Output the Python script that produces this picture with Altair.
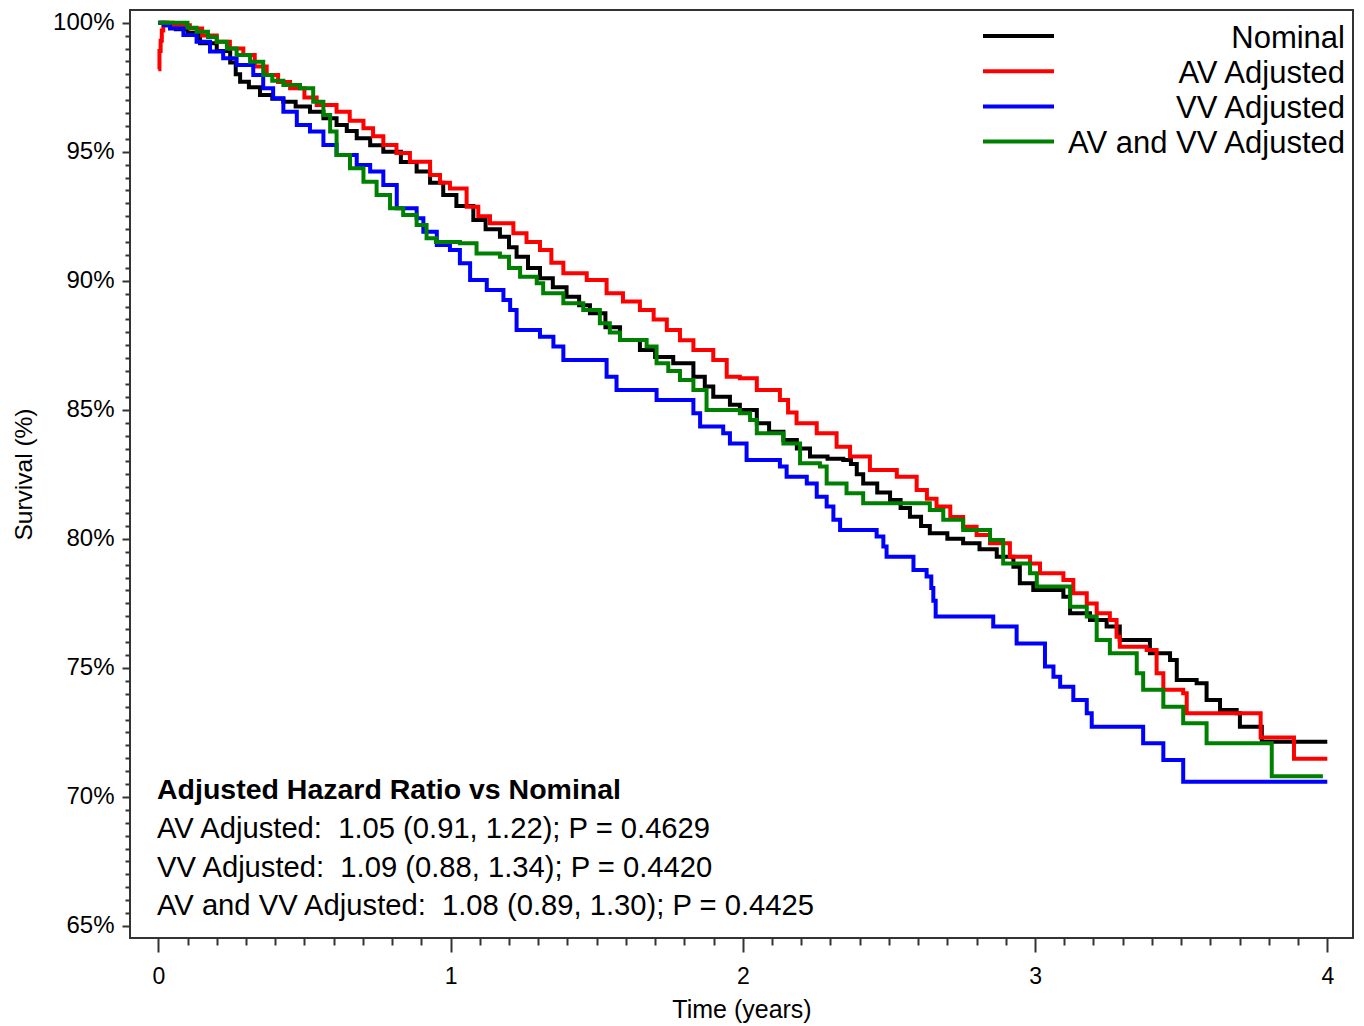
import altair as alt
import pandas as pd

SERIES = ["Nominal", "AV Adjusted", "VV Adjusted", "AV and VV Adjusted"]
COLORS = ["#000000", "#ff0000", "#0000ff", "#008000"]

NOM_T = [0, 0.03, 0.06, 0.1, 0.143, 0.2, 0.246, 0.265, 0.28, 0.31, 0.348, 0.39, 0.428, 0.47, 0.519,
         0.565, 0.61, 0.645, 0.679, 0.725, 0.77, 0.83, 0.884, 0.93, 0.975, 1.02, 1.078, 1.12, 1.169,
         1.2, 1.226, 1.265, 1.306, 1.35, 1.397, 1.44, 1.477, 1.53, 1.58, 1.648, 1.7, 1.762, 1.831,
         1.87, 1.899, 1.956, 1.99, 2.048, 2.09, 2.139, 2.185, 2.23, 2.29, 2.344, 2.37, 2.39, 2.412,
         2.46, 2.504, 2.54, 2.572, 2.61, 2.64, 2.7, 2.754, 2.81, 2.869, 2.926, 2.948, 2.994, 3.097,
         3.12, 3.188, 3.245, 3.29, 3.393, 3.462, 3.485, 3.553, 3.587, 3.633, 3.69, 3.701, 3.776, 4.0]
NOM_S = [100, 99.9, 99.75, 99.6, 99.2, 98.9, 98.46, 98.0, 97.71, 97.5, 97.2, 97.05, 96.94, 96.75, 96.55,
         96.3, 96.04, 95.8, 95.52, 95.25, 95.0, 94.6, 94.23, 93.8, 93.32, 92.9, 92.36, 92.0, 91.71,
         91.3, 90.93, 90.5, 90.1, 89.75, 89.38, 89.05, 88.74, 88.2, 87.71, 87.32, 87.05, 86.8, 86.28,
         85.9, 85.51, 85.2, 84.99, 84.48, 84.15, 83.83, 83.5, 83.19, 83.1, 83.06, 82.9, 82.5, 82.15,
         81.8, 81.51, 81.2, 80.86, 80.5, 80.22, 80.0, 79.83, 79.6, 79.31, 78.92, 78.28, 78.02, 77.76,
         77.12, 76.86, 76.6, 76.08, 75.57, 75.31, 74.53, 74.41, 73.76, 73.37, 73.24, 72.72, 72.14, 72.14]

AV_T = [0, 0.004, 0.008, 0.012, 0.017, 0.05, 0.108, 0.15, 0.2, 0.245, 0.291, 0.33, 0.371, 0.41, 0.451,
        0.5, 0.542, 0.61, 0.655, 0.702, 0.735, 0.77, 0.815, 0.861, 0.93, 0.964, 0.998, 1.055, 1.095,
        1.135, 1.215, 1.26, 1.306, 1.345, 1.386, 1.466, 1.534, 1.59, 1.648, 1.695, 1.74, 1.785, 1.831,
        1.899, 1.945, 1.99, 2.048, 2.127, 2.155, 2.184, 2.253, 2.321, 2.367, 2.435, 2.527, 2.595, 2.63,
        2.663, 2.71, 2.754, 2.8, 2.846, 2.914, 2.983, 3.017, 3.097, 3.131, 3.177, 3.211, 3.256, 3.279,
        3.29, 3.382, 3.416, 3.439, 3.507, 3.519, 3.772, 3.886, 4.0]
AV_S = [98.2, 98.9, 99.3, 99.7, 100.0, 99.9, 99.78, 99.5, 99.26, 99.0, 98.75, 98.3, 97.97, 97.7, 97.46,
        97.1, 96.81, 96.55, 96.2, 95.91, 95.6, 95.26, 94.95, 94.61, 94.1, 93.8, 93.58, 92.87, 92.5,
        92.23, 91.84, 91.5, 91.19, 90.7, 90.29, 90.03, 89.52, 89.2, 88.87, 88.5, 88.09, 87.7, 87.32,
        86.93, 86.28, 86.22, 85.77, 85.38, 84.9, 84.48, 84.09, 83.57, 83.19, 82.67, 82.41, 81.89, 81.55,
        81.25, 80.85, 80.47, 80.15, 79.83, 79.31, 79.05, 78.67, 78.41, 77.89, 77.5, 77.12, 76.86, 76.21,
        75.82, 75.69, 74.79, 74.15, 74.02, 73.24, 72.3, 71.48, 71.48]

VV_T = [0, 0.02, 0.04, 0.086, 0.131, 0.177, 0.222, 0.268, 0.325, 0.359, 0.393, 0.428, 0.474, 0.519,
        0.565, 0.61, 0.679, 0.725, 0.77, 0.816, 0.884, 0.907, 0.953, 0.998, 1.032, 1.067, 1.124, 1.181,
        1.204, 1.226, 1.306, 1.352, 1.386, 1.534, 1.568, 1.705, 1.831, 1.854, 1.933, 1.956, 2.013,
        2.127, 2.15, 2.219, 2.253, 2.287, 2.31, 2.333, 2.458, 2.481, 2.492, 2.584, 2.629, 2.645, 2.652,
        2.66, 2.857, 2.937, 3.034, 3.063, 3.086, 3.131, 3.177, 3.194, 3.37, 3.439, 3.507, 4.0]
VV_S = [100, 99.9, 99.78, 99.52, 99.26, 98.88, 98.62, 98.36, 97.97, 97.46, 97.07, 96.55, 96.04, 95.78,
        95.26, 94.87, 94.49, 94.23, 93.71, 92.81, 92.42, 91.9, 91.39, 91.19, 90.68, 90.03, 89.64, 89.26,
        88.87, 88.09, 87.83, 87.45, 86.93, 86.28, 85.77, 85.38, 84.87, 84.35, 84.09, 83.7, 83.06,
        82.8, 82.41, 82.15, 81.63, 81.25, 80.74, 80.34, 80.09, 79.7, 79.31, 78.79, 78.54, 78.1, 77.6,
        76.99, 76.6, 75.95, 75.05, 74.66, 74.27, 73.76, 73.24, 72.72, 72.08, 71.43, 70.59, 70.59]

AVVV_T = [0, 0.063, 0.1, 0.131, 0.17, 0.2, 0.235, 0.268, 0.314, 0.359, 0.39, 0.428, 0.485, 0.53, 0.565,
          0.588, 0.61, 0.656, 0.702, 0.747, 0.793, 0.838, 0.884, 0.918, 0.95, 1.032, 1.089, 1.169, 1.2,
          1.238, 1.295, 1.317, 1.386, 1.454, 1.511, 1.545, 1.58, 1.671, 1.705, 1.745, 1.785, 1.831,
          1.876, 1.99, 2.025, 2.048, 2.139, 2.196, 2.264, 2.287, 2.355, 2.412, 2.64, 2.686, 2.754, 2.846,
          2.891, 2.983, 3.006, 3.12, 3.177, 3.211, 3.256, 3.348, 3.37, 3.439, 3.507, 3.587, 3.81, 3.985]
AVVV_S = [100, 100, 99.8, 99.65, 99.45, 99.26, 99.0, 98.75, 98.49, 97.97, 97.75, 97.59, 97.46, 96.94, 96.42,
          95.78, 94.87, 94.36, 93.84, 93.32, 92.81, 92.55, 92.16, 91.65, 91.5, 91.45, 91.06, 90.93, 90.5,
          90.16, 89.9, 89.52, 89.13, 88.87, 88.35, 88.0, 87.71, 87.45, 86.8, 86.5, 86.16, 85.77,
          84.99, 84.87, 84.61, 84.09, 83.7, 82.93, 82.8, 82.15, 81.77, 81.38, 81.12, 80.74, 80.34, 79.96,
          79.05, 78.67, 78.15, 77.37, 76.99, 76.08, 75.57, 74.79, 74.15, 73.5, 72.86, 72.08, 70.8, 70.8]

CURVES = [(NOM_T, NOM_S), (AV_T, AV_S), (VV_T, VV_S), (AVVV_T, AVVV_S)]

X_MINOR_TICKS = [round(i * 0.1, 1) for i in range(41)]
Y_MINOR_TICKS = [65 + 0.5 * i for i in range(71)]

ANNOT_TITLE = "Adjusted Hazard Ratio vs Nominal"
ANNOT_LINES = [
    "AV Adjusted:\u00a0 1.05 (0.91, 1.22); P = 0.4629",
    "VV Adjusted:\u00a0 1.09 (0.88, 1.34); P = 0.4420",
    "AV and VV Adjusted:\u00a0 1.08 (0.89, 1.30); P = 0.4425",
]

FONT = "Liberation Sans"
W, H = 1223, 928

x_scale = alt.Scale(domain=[-0.0968, 4.088], nice=False, zero=False)
y_scale = alt.Scale(domain=[64.535, 100.492], nice=False, zero=False)

x_axis = alt.Axis(
    values=X_MINOR_TICKS,
    title="Time (years)",
    labelExpr="datum.value % 1 === 0 ? format(datum.value, 'd') : ''",
    tickSize={"condition": {"test": "datum.value % 1 === 0", "value": 14}, "value": 7},
    labelPadding=13,
    labelFontSize=23,
    titleFontSize=25,
    titleX=W / 2,
    titleY=79,
    titleBaseline="alphabetic",
    labelFlush=False,
    labelOverlap=False,
)
y_axis = alt.Axis(
    values=Y_MINOR_TICKS,
    title="Survival (%)",
    labelExpr="datum.value % 5 === 0 ? datum.value + '%' : ''",
    tickSize={"condition": {"test": "datum.value % 5 === 0", "value": 8}, "value": 5},
    labelPadding=8,
    labelFontSize=24,
    titleFontSize=24.5,
    titleX=-99,
    titleY=H / 2,
    titleBaseline="alphabetic",
    titleAngle=270,
    labelFlush=False,
    labelOverlap=False,
)

layers = []
for name, color, (ts, ss) in zip(SERIES, COLORS, CURVES):
    df = pd.DataFrame({"t": ts, "s": ss, "series": name})
    layers.append(
        alt.Chart(df)
        .mark_line(interpolate="step-after", strokeWidth=4, color=color)
        .encode(
            x=alt.X("t:Q", scale=x_scale, axis=x_axis),
            y=alt.Y("s:Q", scale=y_scale, axis=y_axis),
        )
    )

# legend (top right, inside plot)
for i, (name, color) in enumerate(zip(SERIES, COLORS)):
    src = alt.Data(values=[{"series": name}])
    layers.append(
        alt.Chart(src)
        .mark_rule(strokeWidth=4, color=color)
        .encode(x=alt.value(853), x2=alt.value(924), y=alt.value(26 + 35.2 * i))
    )
    layers.append(
        alt.Chart(src)
        .mark_text(align="right", baseline="middle", fontSize=31, font=FONT, color="black")
        .encode(text="series:N", x=alt.value(1215), y=alt.value(28.5 + 35.2 * i))
    )

# hazard ratio annotation
layers.append(
    alt.Chart(alt.Data(values=[{"txt": ANNOT_TITLE}]))
    .mark_text(align="left", baseline="middle", fontSize=28.5, fontWeight="bold", font=FONT, color="black")
    .encode(text="txt:N", x=alt.value(27), y=alt.value(780))
)
for i, line in enumerate(ANNOT_LINES):
    layers.append(
        alt.Chart(alt.Data(values=[{"txt": line}]))
        .mark_text(align="left", baseline="middle", fontSize=29.2, font=FONT, color="black")
        .encode(text="txt:N", x=alt.value(27), y=alt.value(819 + 38.7 * i))
    )

chart = (
    alt.layer(*layers)
    .properties(
        width=W,
        height=H,
        autosize=alt.AutoSizeParams(type="none"),
        padding={"left": 122, "top": 2, "right": 1, "bottom": 88},
        background="white",
    )
    .configure_view(stroke="#333333", strokeWidth=2)
    .configure_axis(
        domain=False,
        grid=False,
        tickColor="#333333",
        tickWidth=2,
        labelColor="black",
        titleColor="black",
        labelFont=FONT,
        titleFont=FONT,
        titleFontWeight="normal",
    )
)

chart.save("out.html", embed_options={"renderer": "svg", "actions": False})
